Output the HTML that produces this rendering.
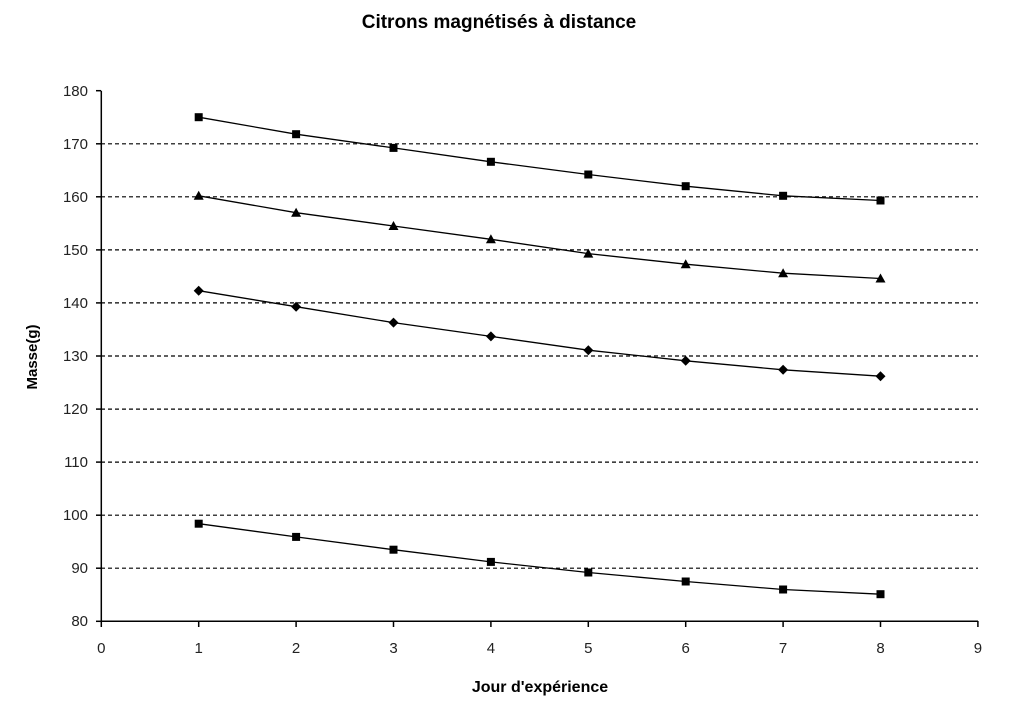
<!DOCTYPE html>
<html><head><meta charset="utf-8"><style>body{margin:0;background:#fff}svg{display:block}</style></head>
<body>
<svg width="1024" height="718" xmlns="http://www.w3.org/2000/svg" font-family="Liberation Sans, Arial, sans-serif">
<rect width="1024" height="718" fill="#fff"/>
<text x="499" y="28" font-size="19" font-weight="bold" text-anchor="middle">Citrons magnétisés à distance</text>
<g stroke="#000" stroke-width="1.2" stroke-dasharray="4,3">
<line x1="101" y1="143.8" x2="978" y2="143.8"/><line x1="101" y1="196.8" x2="978" y2="196.8"/>
<line x1="101" y1="249.9" x2="978" y2="249.9"/><line x1="101" y1="302.9" x2="978" y2="302.9"/>
<line x1="101" y1="356" x2="978" y2="356"/><line x1="101" y1="409.1" x2="978" y2="409.1"/>
<line x1="101" y1="462.1" x2="978" y2="462.1"/><line x1="101" y1="515.2" x2="978" y2="515.2"/>
<line x1="101" y1="568.2" x2="978" y2="568.2"/>
</g>
<g stroke="#000" stroke-width="1.5">
<line x1="101.3" y1="90.7" x2="101.3" y2="621.3"/><line x1="101.3" y1="621.3" x2="978" y2="621.3"/>
<line x1="96" y1="90.7" x2="101" y2="90.7"/><line x1="96" y1="143.8" x2="101" y2="143.8"/><line x1="96" y1="196.8" x2="101" y2="196.8"/><line x1="96" y1="249.9" x2="101" y2="249.9"/><line x1="96" y1="302.9" x2="101" y2="302.9"/><line x1="96" y1="356" x2="101" y2="356"/><line x1="96" y1="409.1" x2="101" y2="409.1"/><line x1="96" y1="462.1" x2="101" y2="462.1"/><line x1="96" y1="515.2" x2="101" y2="515.2"/><line x1="96" y1="568.2" x2="101" y2="568.2"/><line x1="96" y1="621.3" x2="101" y2="621.3"/>
<line x1="101.3" y1="621" x2="101.3" y2="627"/><line x1="198.7" y1="621" x2="198.7" y2="627"/><line x1="296.1" y1="621" x2="296.1" y2="627"/><line x1="393.5" y1="621" x2="393.5" y2="627"/><line x1="490.9" y1="621" x2="490.9" y2="627"/><line x1="588.3" y1="621" x2="588.3" y2="627"/><line x1="685.7" y1="621" x2="685.7" y2="627"/><line x1="783.1" y1="621" x2="783.1" y2="627"/><line x1="880.5" y1="621" x2="880.5" y2="627"/><line x1="977.9" y1="621" x2="977.9" y2="627"/>
</g>
<g font-size="15" text-anchor="end" fill="#222">
<text x="88" y="96">180</text><text x="88" y="149">170</text><text x="88" y="202">160</text><text x="88" y="255">150</text><text x="88" y="308">140</text><text x="88" y="361">130</text><text x="88" y="414">120</text><text x="88" y="467">110</text><text x="88" y="520">100</text><text x="88" y="573">90</text><text x="88" y="626">80</text>
</g>
<g font-size="15" text-anchor="middle" fill="#222">
<text x="101.3" y="653">0</text><text x="198.7" y="653">1</text><text x="296.1" y="653">2</text><text x="393.5" y="653">3</text><text x="490.9" y="653">4</text><text x="588.3" y="653">5</text><text x="685.7" y="653">6</text><text x="783.1" y="653">7</text><text x="880.5" y="653">8</text><text x="977.9" y="653">9</text>
</g>
<text x="540" y="692" font-size="16" font-weight="bold" text-anchor="middle">Jour d'expérience</text>
<text transform="translate(37,357) rotate(-90)" font-size="15" font-weight="bold" text-anchor="middle">Masse(g)</text>
<g fill="none" stroke="#000" stroke-width="1.3">
<polyline points="198.7,117.2 296.1,134.2 393.5,147.9 490.9,161.8 588.3,174.5 685.7,186.2 783.1,195.8 880.5,200.5"/>
<polyline points="198.7,195.8 296.1,212.7 393.5,226 490.9,239.3 588.3,253.6 685.7,264.2 783.1,273.2 880.5,278.5"/>
<polyline points="198.7,290.7 296.1,306.7 393.5,322.6 490.9,336.4 588.3,350.2 685.7,360.8 783.1,369.8 880.5,376.2"/>
<polyline points="198.7,523.7 296.1,536.9 393.5,549.7 490.9,561.9 588.3,572.5 685.7,581.5 783.1,589.5 880.5,594.2"/>
</g>
<g fill="#000">
<rect x="194.7" y="113.2" width="8" height="8"/><rect x="292.1" y="130.2" width="8" height="8"/><rect x="389.5" y="143.9" width="8" height="8"/><rect x="486.9" y="157.8" width="8" height="8"/><rect x="584.3" y="170.5" width="8" height="8"/><rect x="681.7" y="182.2" width="8" height="8"/><rect x="779.1" y="191.8" width="8" height="8"/><rect x="876.5" y="196.5" width="8" height="8"/>
<rect x="194.7" y="519.7" width="8" height="8"/><rect x="292.1" y="532.9" width="8" height="8"/><rect x="389.5" y="545.7" width="8" height="8"/><rect x="486.9" y="557.9" width="8" height="8"/><rect x="584.3" y="568.5" width="8" height="8"/><rect x="681.7" y="577.5" width="8" height="8"/><rect x="779.1" y="585.5" width="8" height="8"/><rect x="876.5" y="590.2" width="8" height="8"/>
<polygon points="198.7,190.8 203.7,199.8 193.7,199.8"/><polygon points="296.1,207.7 301.1,216.7 291.1,216.7"/><polygon points="393.5,221 398.5,230 388.5,230"/><polygon points="490.9,234.3 495.9,243.3 485.9,243.3"/><polygon points="588.3,248.6 593.3,257.6 583.3,257.6"/><polygon points="685.7,259.2 690.7,268.2 680.7,268.2"/><polygon points="783.1,268.2 788.1,277.2 778.1,277.2"/><polygon points="880.5,273.5 885.5,282.5 875.5,282.5"/>
<polygon points="198.7,285.7 203.7,290.7 198.7,295.7 193.7,290.7"/><polygon points="296.1,301.7 301.1,306.7 296.1,311.7 291.1,306.7"/><polygon points="393.5,317.6 398.5,322.6 393.5,327.6 388.5,322.6"/><polygon points="490.9,331.4 495.9,336.4 490.9,341.4 485.9,336.4"/><polygon points="588.3,345.2 593.3,350.2 588.3,355.2 583.3,350.2"/><polygon points="685.7,355.8 690.7,360.8 685.7,365.8 680.7,360.8"/><polygon points="783.1,364.8 788.1,369.8 783.1,374.8 778.1,369.8"/><polygon points="880.5,371.2 885.5,376.2 880.5,381.2 875.5,376.2"/>
</g>
</svg>
</body></html>
